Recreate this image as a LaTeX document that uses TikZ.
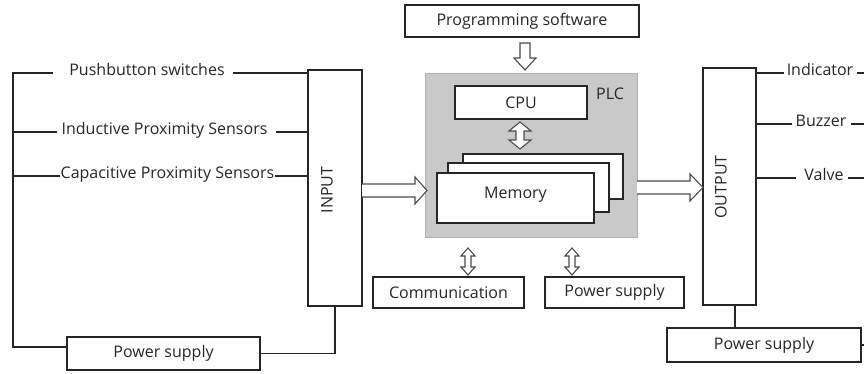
\documentclass[tikz,border=0pt]{standalone}
\usepackage{fontspec}
\setmainfont{Open Sans}
\newcommand\fs{\fontsize{16}{19}\selectfont}
\begin{document}
\begin{tikzpicture}[x=1pt,y=-1pt,
  box/.style={draw=black!85, line width=1.2pt, fill=white, inner sep=0pt, font=\fs, text=black!85},
  lbl/.style={inner sep=0pt, font=\fs, text=black!85, text height=0.72em, text depth=0.22em},
  plcbox/.style={draw=black!30, line width=1pt, fill=black!21, inner sep=0pt},
  wire/.style={draw=black!85, line width=1.2pt},
  barrow/.style={draw=black!70, fill=white, line width=1.1pt, line join=miter}]
\useasboundingbox (0,0) rectangle (864,374);

% PLC block
\node[plcbox, minimum width=212pt, minimum height=163pt] (plc) at (531,155.5) {};
\node[lbl] (plclbl) at (610,97) {PLC};
\node[box, minimum width=234pt, minimum height=32pt] (prog) at (522,21) {Programming software};
\node[box, minimum width=132pt, minimum height=33pt] (cpu) at (521,102.5) {CPU};
\node[box, minimum width=160pt, minimum height=45pt] (mem3) at (543,176.5) {};
\node[box, minimum width=161pt, minimum height=49pt] (mem2) at (528.5,187.5) {};
\node[box, minimum width=157pt, minimum height=50pt, text height=0.72em, text depth=0.62em] (mem) at (515.5,198) {Memory};
\node[box, minimum width=151pt, minimum height=31pt] (comm) at (448.5,292.5) {Communication};
\node[box, minimum width=139pt, minimum height=31pt] (mps) at (614.5,292.5) {Power supply};

% Input / output
\node[box, minimum width=54pt, minimum height=236pt] (in) at (335,188) {};
\node[lbl, rotate=90] (intxt) at (330,190) {INPUT};
\node[box, minimum width=53pt, minimum height=237pt] (out) at (729.5,186.5) {};
\node[lbl, rotate=90] (outtxt) at (724,187) {OUTPUT};

% power supplies
\node[box, minimum width=193pt, minimum height=33pt] (lps) at (163.5,353.5) {Power supply};
\node[box, minimum width=194pt, minimum height=34pt] (rps) at (764,345) {Power supply};

% labels
\node[lbl] (pb) at (147,73) {Pushbutton switches};
\node[lbl] (ind) at (164.5,132) {Inductive Proximity Sensors};
\node[lbl] (cap) at (167.5,176) {Capacitive Proximity Sensors};
\node[lbl] (indic) at (820,73) {Indicator};
\node[lbl] (buz) at (821,124) {Buzzer};
\node[lbl] (valve) at (824,178) {Valve};

\coordinate (busT) at (13,73);
\coordinate (busB) at (13,347);
\coordinate (redge) at (868,0);

% left wiring
\draw[wire] (lps.west |- busB) -- (busB) -- (busT) -- ++(40,0);
\draw[wire] ([xshift=8pt]pb.east) -- (pb.east -| in.west);
\draw[wire] (busT |- ind) -- ++(44,0);
\draw[wire] ([xshift=8pt]ind.east) -- (ind.east -| in.west);
\draw[wire] (busT |- cap) -- ++(47,0);
\draw[wire] (cap.east) -- (cap.east -| in.west);
\draw[wire] (lps.east) -| (in.south);

% right wiring
\draw[wire] (indic -| out.east) -- ([xshift=-3pt]indic.west);
\draw[wire] ([xshift=4pt]indic.east) -- (indic -| redge);
\draw[wire] (buz -| out.east) -- ([xshift=-3pt]buz.west);
\draw[wire] ([xshift=4pt]buz.east) -- (buz -| redge);
\draw[wire] (valve -| out.east) -- ([xshift=-8pt]valve.west);
\draw[wire] ([xshift=4pt]valve.east) -- (valve -| redge);
\draw[wire] ([xshift=5.5pt]out.south) -- ([xshift=5.5pt]out.south |- rps.north);
\draw[wire] (rps.east) -- (rps -| redge);

% block arrows
% programming -> CPU
\draw[barrow] (520,43) -- (530,43) -- (530,58) -- (536,58) -- (525,70) -- (514,58) -- (520,58) -- cycle;
% CPU <-> memory
\draw[barrow] (520,122) -- (531,131) -- (524,131) -- (524,140) -- (531,140) -- (520,149) -- (509,140) -- (516,140) -- (516,131) -- (509,131) -- cycle;
% communication
\draw[barrow] (468,248) -- (475,256) -- (471,256) -- (471,267) -- (475,267) -- (468,275) -- (461,267) -- (465,267) -- (465,256) -- (461,256) -- cycle;
% power supply
\draw[barrow] (572,248) -- (579,256) -- (575,256) -- (575,267) -- (579,267) -- (572,275) -- (565,267) -- (569,267) -- (569,256) -- (565,256) -- cycle;
% input -> PLC
\draw[barrow] (362,184) -- (415,184) -- (415,177) -- (427,190.5) -- (415,204) -- (415,197) -- (362,197);
% PLC -> output
\draw[barrow] (637,181) -- (690,181) -- (690,174) -- (703,187.5) -- (690,201) -- (690,194) -- (637,194);
\end{tikzpicture}
\end{document}
